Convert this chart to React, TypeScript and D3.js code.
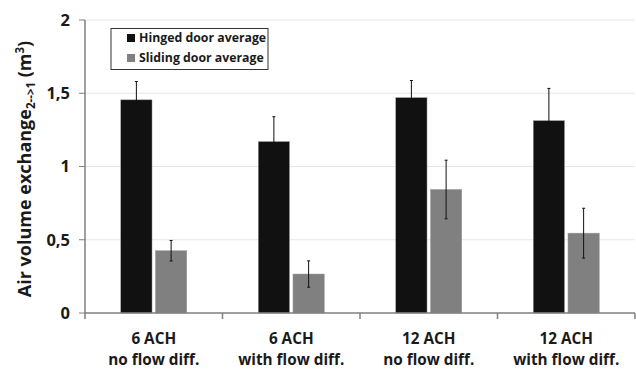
import React from 'react';
import * as d3 from 'd3';

const categories = [
  ['6 ACH', 'no flow diff.'],
  ['6 ACH', 'with flow diff.'],
  ['12 ACH', 'no flow diff.'],
  ['12 ACH', 'with flow diff.'],
];
const series = ['Hinged door average', 'Sliding door average'];
const colors = ['#111111', '#808080'];
const hingedValues = [1.455, 1.17, 1.47, 1.313];
const hingedErrors = [0.125, 0.17, 0.117, 0.22];
const slidingValues = [0.425, 0.266, 0.843, 0.545];
const slidingErrors = [0.07, 0.09, 0.2, 0.17];
const yTicks = [0, 0.5, 1, 1.5, 2];

const width = 636;
const height = 370;
const margin = { top: 20, right: 1, bottom: 57, left: 85 };
const font = '"Open Sans", Lato, sans-serif';

export default function App() {
  const keys = categories.map((c) => c.join(' '));
  const x0 = d3.scaleBand().domain(keys).range([margin.left, width - margin.right]);
  const x1 = d3.scaleBand().domain(series).range([0, 66]).paddingInner(0.1);
  const y = d3.scaleLinear().domain([0, 2]).range([height - margin.bottom, margin.top]);
  const fmt = (v: number) => String(v).replace('.', ',');

  const rows = [
    { name: series[0], values: hingedValues, errors: hingedErrors, color: colors[0] },
    { name: series[1], values: slidingValues, errors: slidingErrors, color: colors[1] },
  ];

  const y0 = y(0);
  const left = margin.left;
  const right = width - margin.right;

  return (
    <svg width={width} height={height} style={{ position: 'absolute', left: 0, top: 0 }}>
      <rect width={width} height={height} fill="#fff" />
      {yTicks.map((t) => (
        <g key={t}>
          {t > 0 && <line x1={left} x2={right} y1={y(t)} y2={y(t)} stroke="#e6e6e6" />}
          <line x1={left - 6} x2={left} y1={y(t)} y2={y(t)} stroke="#7f7f7f" />
          <text x={left - 15} y={y(t)} dy="0.35em" textAnchor="end" fontFamily={font} fontWeight="bold" fontSize={16.5} fill="#1a1a1a">
            {fmt(t)}
          </text>
        </g>
      ))}
      {rows.map((r) =>
        keys.map((k, i) => {
          const cx = x0(k)! + x0.bandwidth() / 2 - 33 + x1(r.name)!;
          const mid = cx + x1.bandwidth() / 2;
          return (
            <g key={r.name + k}>
              <rect x={cx} y={y(r.values[i])} width={x1.bandwidth()} height={y0 - y(r.values[i])} fill={r.color} stroke="#999" strokeWidth={0.5} />
              <line x1={mid} x2={mid} y1={y(r.values[i] + r.errors[i])} y2={y(r.values[i] - r.errors[i])} stroke="#111" strokeWidth={1} />
              <line x1={mid - 1.5} x2={mid + 1.5} y1={y(r.values[i] + r.errors[i])} y2={y(r.values[i] + r.errors[i])} stroke="#111" />
              <line x1={mid - 1.5} x2={mid + 1.5} y1={y(r.values[i] - r.errors[i])} y2={y(r.values[i] - r.errors[i])} stroke="#111" />
            </g>
          );
        })
      )}
      <line x1={left} x2={left} y1={margin.top} y2={y0} stroke="#7f7f7f" strokeWidth={1.5} />
      <line x1={left} x2={right} y1={y0} y2={y0} stroke="#7f7f7f" strokeWidth={1.5} />
      {keys.map((k, i) => (
        <g key={k}>
          <line x1={x0(k)! + x0.bandwidth()} x2={x0(k)! + x0.bandwidth()} y1={y0} y2={y0 + 6} stroke="#7f7f7f" strokeWidth={1.5} />
          <text x={x0(k)! + x0.bandwidth() / 2} y={y0 + 31} textAnchor="middle" fontFamily={font} fontWeight="bold" fontSize={15.3} fill="#1a1a1a">
            {categories[i][0]}
          </text>
          <text x={x0(k)! + x0.bandwidth() / 2} y={y0 + 52} textAnchor="middle" fontFamily={font} fontWeight="bold" fontSize={15.3} fill="#1a1a1a">
            {categories[i][1]}
          </text>
        </g>
      ))}
      <line x1={left} x2={left} y1={y0} y2={y0 + 6} stroke="#7f7f7f" strokeWidth={1.5} />
      <text transform="translate(31,169) rotate(-90)" textAnchor="middle" fontFamily={font} fontWeight="bold" fontSize={18} fill="#1a1a1a">
        Air volume exchange
        <tspan fontSize={11.5} dy={4}>2--&gt;1</tspan>
        <tspan dy={-4}> (m</tspan>
        <tspan fontSize={11.5} dy={-7}>3</tspan>
        <tspan dy={7}>)</tspan>
      </text>
      <g>
        <rect x={111} y={28.5} width={157} height={41} fill="#fff" stroke="#333" strokeWidth={1} />
        {series.map((s, i) => (
          <g key={s}>
            <rect x={127} y={34 + i * 20} width={8} height={8} fill={colors[i]} />
            <text x={139} y={38 + i * 20} dy="0.35em" fontFamily={font} fontWeight="bold" fontSize={12.3} fill="#1a1a1a">
              {s}
            </text>
          </g>
        ))}
      </g>
    </svg>
  );
}
